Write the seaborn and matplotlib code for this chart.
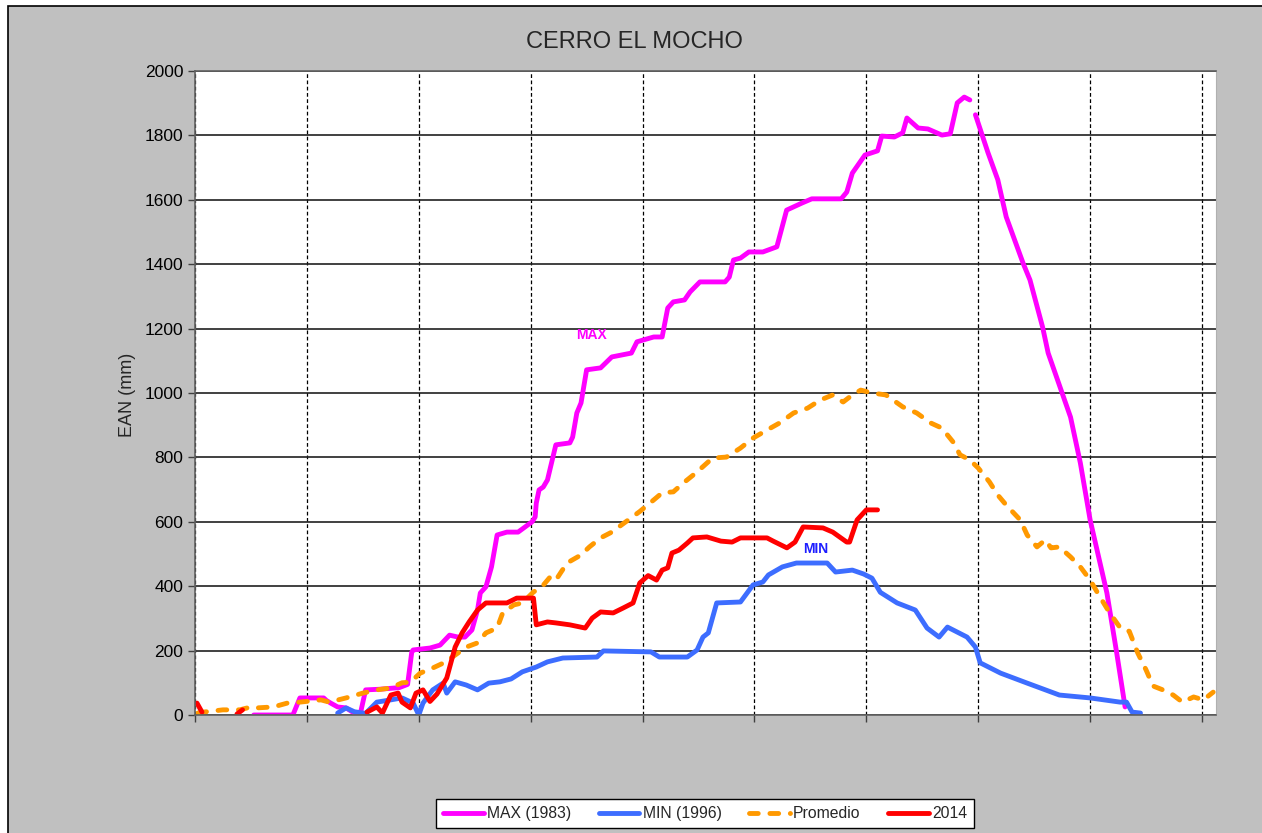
import pandas as pd
import seaborn as sns
import matplotlib
matplotlib.use('Agg')
import matplotlib.pyplot as plt
from matplotlib.patches import Rectangle
from matplotlib.lines import Line2D

# Datos (dia del anio, EAN en mm)
# MAX (1983), dos tramos
max_dia_1 = [21, 35, 37.5, 46, 47, 48.5, 51, 54, 58, 59, 61, 66, 73, 76, 77.5, 78, 84, 87.6, 91, 94,
             96.5, 99, 101, 102, 104, 106, 108, 111.5, 115.5, 118, 120.5, 121.6, 122, 123, 124.5, 126,
             129, 134, 135, 136.5, 138, 140, 145, 149, 156, 158, 164, 167, 169, 171, 175, 177, 180.5,
             189.5, 191, 192.5, 195, 198, 203, 208, 211.5, 217, 220.5, 231, 233, 235, 239.5, 244,
             245.5, 250, 253, 254.5, 258.5, 262, 267, 270, 272.5, 275, 277]
max_ean_1 = [0, 0, 53, 53, 45, 37, 25, 22, 0, 0, 78, 80, 85, 95, 196, 202, 208, 217, 248, 242,
             242, 264, 326, 379, 398, 460, 559, 568, 568, 584, 600, 615, 658, 699, 708, 730,
             839, 845, 863, 938, 969, 1072, 1078, 1112, 1124, 1159, 1174, 1174, 1264, 1283, 1289, 1314, 1345,
             1345, 1360, 1413, 1419, 1438, 1438, 1454, 1568, 1590, 1603, 1603, 1624, 1683, 1739, 1752,
             1798, 1795, 1808, 1854, 1823, 1820, 1801, 1805, 1901, 1919, 1910]
max_dia_2 = [279, 283.5, 287, 290, 296, 298.5, 303, 305, 313, 316.5, 320, 326, 329.5, 332.5]
max_ean_2 = [1864, 1746, 1662, 1547, 1404, 1351, 1205, 1124, 925, 783, 606, 379, 193, 25]

# MIN (1996)
min_dia = [51, 54, 57, 61, 65, 70, 74, 78, 80, 81.5, 85, 88.7, 90, 93, 97, 101, 105, 109, 113, 117,
           122, 126, 131.5, 143.7, 146, 163, 166, 176, 179.5, 181.6, 183.5, 186.5, 195, 199.5, 203,
           205, 210, 215, 226, 229, 235, 239, 242, 245, 251, 257.5, 261.7, 266, 269, 276, 279,
           280.7, 288, 297.5, 309, 320, 330.7, 333, 335, 338]
min_ean = [6, 22, 10, 5, 40, 47, 53, 37, 0, 37, 78, 99, 68, 103, 93, 78, 99, 103, 112, 134,
           149, 165, 177, 180, 199, 196, 180, 180, 202, 242, 255, 348, 351, 404, 413,
           435, 460, 472, 472, 444, 450, 438, 425, 381, 348, 326, 270, 242, 273, 242, 211,
           162, 130, 99, 62, 53, 40, 40, 9, 6]

# Promedio
prom_dia = [1, 3, 10, 16, 20, 22, 28, 33, 37.5, 45, 48, 54, 60, 65, 70, 74, 77, 80.5, 85, 88.7,
            92, 97, 101, 104, 108, 110, 114, 117, 121, 124, 127, 129, 133, 138, 141, 145, 149, 154,
            159, 164, 167, 171, 174.5, 179.5, 185, 190, 195, 199.5, 204.5, 209, 214, 219, 223.5,
            228, 231.7, 235, 238, 242, 247, 253, 258, 263, 267, 271, 273.5, 277, 280, 284, 287,
            290, 295, 297.5, 301, 304, 306, 309, 313, 316.5, 320, 323.5, 327, 331, 334, 337, 340,
            342.5, 346, 349.7, 353, 357, 360.5, 364]
prom_ean = [6, 9, 16, 16, 25, 22, 25, 37, 40, 47, 40, 53, 68, 78, 84, 100, 102, 130, 146, 161,
            180, 211, 224, 255, 270, 317, 342, 348, 382, 398, 429, 419, 472, 497, 522, 550, 568, 600,
            632, 668, 690, 693, 720, 755, 798, 801, 829, 860, 885, 907, 938, 953, 978,
            994, 972, 994, 1009, 1000, 994, 957, 938, 907, 891, 848, 808, 792, 767, 724, 683,
            652, 606, 559, 522, 544, 519, 522, 491, 460, 419, 367, 317, 268, 260, 193, 140,
            90, 78, 62, 40, 56, 47, 71]

# 2014, tres tramos
t14_dia_1 = [0.7, 2.5]
t14_ean_1 = [37, 9]
t14_dia_2 = [15, 17]
t14_ean_2 = [3, 16]
t14_dia_3 = [61.5, 65, 67, 70, 72.6, 74, 77, 79, 81.5, 84, 86.5, 90, 93, 95.5, 98, 101, 104, 111.5,
             115, 121, 122, 126, 129, 134, 139.5, 142, 145, 149.5, 153, 156.6, 159, 162, 165, 167,
             169, 170.5, 173, 176, 178, 183, 188, 192, 195, 204.5, 206.7, 211.6, 214.5, 217.4,
             224.5, 228, 233, 234, 236.7, 240, 244]
t14_ean_3 = [9, 25, 6, 62, 68, 40, 22, 68, 78, 42, 65, 115, 211, 255, 289, 326, 348, 348,
             363, 363, 280, 289, 286, 280, 270, 301, 320, 317, 332, 348, 410, 433, 419, 450,
             457, 503, 512, 534, 550, 553, 540, 537, 550, 550, 540, 519, 537, 584,
             581, 568, 537, 537, 606, 637, 637]

c_max = '#ff00ff'
c_min = '#3d6dff'
c_prom = '#ff9900'
c_2014 = '#ff0000'
dash_prom = (0, (1.8, 2.4))

sns.set_style('white')
plt.rcParams['font.family'] = ['Liberation Sans', 'DejaVu Sans']

fig = plt.figure(figsize=(12.62, 8.33), dpi=100)
fig.patch.set_facecolor('white')
fig.patches.append(Rectangle((8 / 1262, -0.1), 1.1, 1 - 6 / 833 + 0.1, transform=fig.transFigure,
                             facecolor='#c0c0c0', edgecolor='black', lw=1.2, zorder=-10))

ax = fig.add_axes([195 / 1262, 118 / 833, 1021 / 1262, 644 / 833])
ax.set_facecolor('white')


def tramo(dias, vals, color, ls='-'):
    df = pd.DataFrame({'dia': dias, 'ean': vals})
    sns.lineplot(data=df, x='dia', y='ean', color=color, lw=3.5, linestyle=ls,
                 solid_joinstyle='round', solid_capstyle='round', dash_capstyle='round',
                 sort=False, estimator=None, legend=False, ax=ax)


tramo(max_dia_1, max_ean_1, c_max)
tramo(max_dia_2, max_ean_2, c_max)
tramo(min_dia, min_ean, c_min)
tramo(prom_dia, prom_ean, c_prom, dash_prom)
tramo(t14_dia_1, t14_ean_1, c_2014)
tramo(t14_dia_2, t14_ean_2, c_2014)
tramo(t14_dia_3, t14_ean_3, c_2014)

ax.set_xlim(0, 365)
ax.set_ylim(0, 2000)
ax.set_xticks(range(0, 361, 40))
ax.set_xticklabels([])
ax.set_yticks(range(0, 2001, 200))
ax.set_xlabel('')
ax.set_ylabel('')
ax.set_axisbelow(True)
ax.yaxis.grid(True, color='#202020', lw=1.2)
ax.xaxis.grid(True, color='black', lw=0.9, linestyle=(0, (3, 2)))
ax.tick_params(axis='both', direction='out', length=5, width=1, color='#404040',
               bottom=True, left=True, labelsize=12.5, labelcolor='black')
for side in ['left', 'bottom', 'top']:
    ax.spines[side].set_color('#606060')
    ax.spines[side].set_linewidth(1.2)
ax.spines['right'].set_color('#b0b0b0')

ax.text(141.6, 1180, 'MAX', color=c_max, fontweight='bold', fontsize=10, ha='center', va='center')
ax.text(222, 516, 'MIN', color='#1e1eff', fontweight='bold', fontsize=10, ha='center', va='center')

fig.text(634 / 1262, 1 - 42 / 833, 'CERRO EL MOCHO', fontsize=17, ha='center', va='center')
fig.text(127 / 1262, 1 - 395 / 833, 'EAN (mm)', fontsize=13, rotation=90, ha='center', va='center')

handles = [Line2D([], [], color=c_max, lw=3.5, solid_capstyle='round'),
           Line2D([], [], color=c_min, lw=3.5, solid_capstyle='round'),
           Line2D([], [], color=c_prom, lw=3.5, linestyle=dash_prom, dash_capstyle='round'),
           Line2D([], [], color=c_2014, lw=3.5, solid_capstyle='round')]
labels = ['MAX (1983)', 'MIN (1996)', 'Promedio', '2014']
leg = fig.legend(handles, labels, loc='center', mode='expand',
                 bbox_to_anchor=(428 / 1262, 1 - 830 / 833, 554 / 1262, 33 / 833), ncol=4,
                 frameon=True, fancybox=False, edgecolor='black', facecolor='white', framealpha=1,
                 fontsize=11.3, handlelength=2.6, handletextpad=0.2, columnspacing=1.0, borderpad=0.45)
leg.get_frame().set_linewidth(1.0)

fig.savefig('out.png', dpi=100)
